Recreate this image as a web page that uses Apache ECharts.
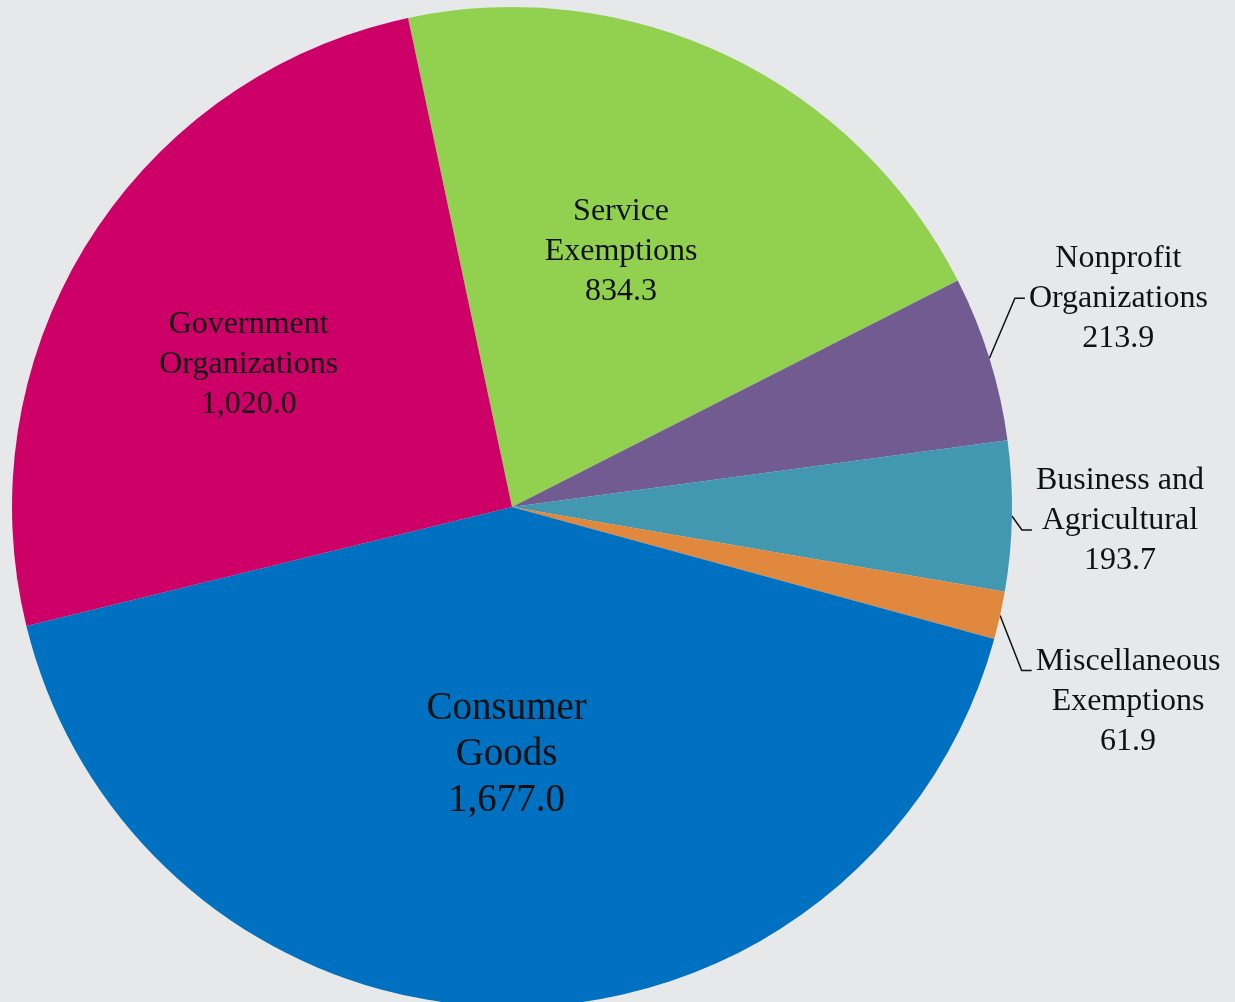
<!DOCTYPE html>
<html>
<head>
<meta charset="utf-8">
<script src="https://cdn.jsdelivr.net/npm/echarts@6/dist/echarts.min.js"></script>
<style>
html,body{margin:0;padding:0;background:#e6e8ea;}
#c{width:1235px;height:1002px;}
</style>
</head>
<body>
<div id="c"></div>
<script>
// ---- data ----
const categories = ['Service\nExemptions', 'Nonprofit\nOrganizations', 'Business and\nAgricultural', 'Miscellaneous\nExemptions', 'Consumer\nGoods', 'Government\nOrganizations'];
const values = [834.3, 213.9, 193.7, 61.9, 1677.0, 1020.0];
const colors = ['#92D050', '#715B91', '#4298B0', '#E0883E', '#0070C0', '#CC0066'];

// ---- label layout tweaks (positions only) ----
const outside = [false, true, true, true, false, false];
const labelShift = [[0, -27], [129, -60], [108, 5], [128, 86], [-2, -5], [-49, -8]];
const lineDy = [0, 0, 9, -31, 0, 0];

const FONT = '"Liberation Serif", "DejaVu Serif", serif';

function fmt(v) {
  return v.toLocaleString('en-US', {minimumFractionDigits: 1, maximumFractionDigits: 1});
}

const chart = echarts.init(document.getElementById('c'), null, {renderer: 'canvas'});

const data = categories.map((name, i) => ({
  name: name,
  value: values[i],
  itemStyle: {color: colors[i]},
  label: {
    position: outside[i] ? 'outside' : 'inside',
    fontSize: i === 4 ? 39 : 32,
    lineHeight: i === 4 ? 46 : 40
  },
  labelLine: {show: outside[i]}
}));

chart.setOption({
  backgroundColor: '#e6e8ea',
  animation: false,
  series: [{
    type: 'pie',
    center: [512, 507],
    radius: [0, 500],
    startAngle: 102,
    clockwise: true,
    avoidLabelOverlap: false,
    data: data,
    itemStyle: {borderWidth: 0},
    label: {
      show: true,
      color: '#111',
      fontFamily: FONT,
      align: 'center',
      formatter: p => p.name + '\n' + fmt(p.value)
    },
    labelLine: {
      length: 15,
      length2: 10,
      lineStyle: {color: '#111', width: 1.5}
    },
    labelLayout: function (p) {
      const i = p.dataIndex;
      const r = p.labelRect;
      let cx, cy;
      if (outside[i] && p.labelLinePoints) {
        const s = p.labelLinePoints[0];
        cx = s[0] + labelShift[i][0];
        cy = s[1] + labelShift[i][1];
      } else {
        cx = r.x + r.width / 2 + labelShift[i][0];
        cy = r.y + r.height / 2 + labelShift[i][1];
      }
      const out = {x: cx, y: cy, align: 'center', verticalAlign: 'middle'};
      if (outside[i] && p.labelLinePoints) {
        const s = p.labelLinePoints[0];
        const left = cx - r.width / 2 - 4;
        const ly = cy + lineDy[i];
        out.labelLinePoints = [[s[0], s[1]], [left - 10, ly], [left, ly]];
      }
      return out;
    }
  }]
});
</script>
</body>
</html>
